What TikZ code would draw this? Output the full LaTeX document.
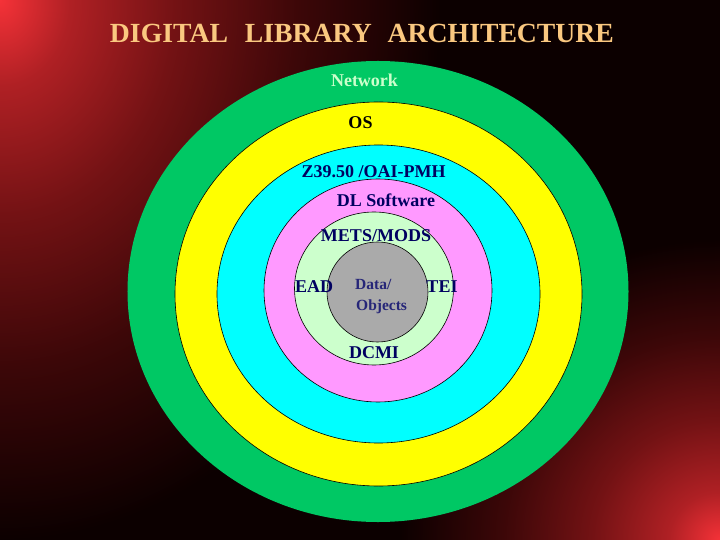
\documentclass[tikz,border=0pt]{standalone}
\usepackage{fontspec}
\setmainfont{Liberation Serif}
\usetikzlibrary{shapes.geometric}
\definecolor{bgbase}{RGB}{12,0,0}
\definecolor{glowA}{RGB}{245,50,56}
\definecolor{glowB}{RGB}{175,32,36}
\definecolor{glowC}{RGB}{115,18,20}
\definecolor{glowD}{RGB}{60,7,8}
\definecolor{ringgreen}{RGB}{0,200,100}
\definecolor{ringyellow}{RGB}{255,255,0}
\definecolor{ringcyan}{RGB}{0,255,255}
\definecolor{ringpink}{RGB}{255,153,255}
\definecolor{ringlight}{RGB}{204,255,204}
\definecolor{ringgray}{RGB}{170,170,170}
\definecolor{titlecol}{RGB}{250,200,128}
\definecolor{labnavy}{RGB}{0,0,96}
\definecolor{netcol}{RGB}{204,255,204}
\pgfdeclareradialshading{cornerglow}{\pgfpoint{0bp}{0bp}}{color(0bp)=(glowA); color(4bp)=(glowB); color(10bp)=(glowC); color(17bp)=(glowD); color(25bp)=(bgbase); color(50bp)=(bgbase)}
\tikzset{
  ring/.style={ellipse, inner sep=0pt, draw=black, line width=0.6bp},
  lab/.style={anchor=base, inner sep=0pt, text=labnavy, font=\fontsize{18bp}{20bp}\selectfont\bfseries},
}
\begin{document}
\begin{tikzpicture}[x=1bp,y=-1bp]
\useasboundingbox (0,0) rectangle (720,540);
\begin{scope}
\clip (0,0) rectangle (720,540);
\fill[bgbase] (0,0) rectangle (720,540);
\shade[shading=cornerglow] (0,0) ellipse [x radius=440, y radius=540];
\shade[shading=cornerglow] (720,540) ellipse [x radius=320, y radius=300];
\end{scope}
% rings
\node[ellipse, inner sep=0pt, fill=ringgreen, minimum width=501bp, minimum height=461bp] (net) at (378,291.5) {};
\node[ring, fill=ringyellow, minimum width=407bp, minimum height=384bp] (os) at (378.5,294) {};
\node[ring, fill=ringcyan, minimum width=323bp, minimum height=298bp] (z39) at (378.5,294) {};
\node[ring, fill=ringpink, minimum width=228bp, minimum height=223bp] (dl) at (378,290.5) {};
\node[ring, fill=ringlight, minimum width=159bp, minimum height=153bp] (mets) at (374,288.5) {};
\node[ring, fill=ringgray, minimum width=101bp, minimum height=100bp] (data) at (377.5,292) {};
% title
\node[anchor=base, inner sep=0pt, text=titlecol, font=\fontsize{27.7bp}{30bp}\selectfont\bfseries] (title) at (362,43) {DIGITAL\hspace{17bp}LIBRARY\hspace{16bp}ARCHITECTURE};
% labels
\node[lab, text=netcol] (tnet) at (364.5,87) {Network};
\node[lab, text=black] (tos) at (360.5,129) {OS};
\node[lab] (tz) at (373.5,178) {Z39.50 /OAI-PMH};
\node[lab] (tdl) at (386,207) {DL Software};
\node[lab] (tmets) at (376,242) {METS/MODS};
\node[lab] (tead) at (314,292) {EAD};
\node[lab] (ttei) at (442,292) {TEI};
\node[lab] (tdcmi) at (374,358) {DCMI};
\node[anchor=base west, inner sep=0pt, text=labnavy!85!white, font=\fontsize{15.5bp}{21bp}\selectfont\bfseries] (tdata) at (355,289) {Data/};
\node[anchor=base west, inner sep=0pt, text=labnavy!85!white, font=\fontsize{15.5bp}{21bp}\selectfont\bfseries] (tobj) at (356,310) {Objects};
\end{tikzpicture}
\end{document}
